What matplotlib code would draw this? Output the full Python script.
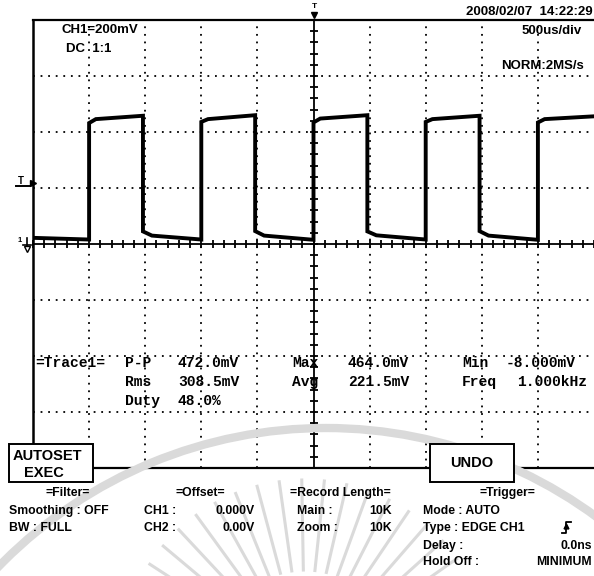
import math
import matplotlib
matplotlib.use("Agg")
import matplotlib.pyplot as plt
from matplotlib.ticker import MultipleLocator, NullFormatter
from matplotlib.patches import Rectangle, Arc
from matplotlib.lines import Line2D
from matplotlib.transforms import IdentityTransform

# ---- waveform (time in ms, level in mV) ----
rise_ms = [-2.0, -1.0, 0.0, 1.0, 2.0]
fall_ms = [-1.52, -0.52, 0.48, 1.48]
high_start_mv = [432, 436, 434, 436, 434]
high_knee_mv = [446, 446, 448, 446, 446]
high_end_mv = [458, 460, 460, 458, 456]
low_start_mv = [45, 46, 45, 46]
low_knee_mv = [30, 30, 31, 30]
low_end_mv = [16, 15, 16, 15]
lead_low_mv = [22, 16]          # segment before the first rising edge
HIGH_KNEE_MS = 0.06
LOW_KNEE_MS = 0.08

# screen settings
time_span_ms = (-2.5, 2.5)      # 500us/div x 10 div
volt_span_mv = (-800, 800)      # 200mV/div x 8 div
grid_t = [-2.0, -1.5, -1.0, -0.5, 0.5, 1.0, 1.5, 2.0]
grid_mv = [-600, -400, -200, 200, 400, 600]
trig_level_mv = 218

# measurement readout
meas_rows = [
    ["=Trace1=", "P-P", "472.0mV", "Max", "464.0mV", "Min", "-8.000mV"],
    ["", "Rms", "308.5mV", "Avg", "221.5mV", "Freq", "1.000kHz"],
    ["", "Duty", "48.0%", "", "", "", ""],
]

W, H = 594, 576
fig = plt.figure(figsize=(W / 100, H / 100), dpi=100)
fig.patch.set_facecolor("white")


def fx(x):
    return x / W


def fy(y):
    return 1 - y / H


UI = dict(family="Liberation Sans", weight="bold", color="black")
MONO = dict(family="Liberation Mono", weight="bold", color="black")

# faint watermark behind everything
wm = dict(transform=IdentityTransform(), color="#dadada", zorder=0)
fig.patches.append(Arc((326, H - 884), 912, 912, lw=6, **wm))
for a in range(28, 156, 7):
    r0, r1 = 95, 185
    c = (305, H - 665)
    ca, sa = math.cos(math.radians(a)), math.sin(math.radians(a))
    fig.lines.append(Line2D([c[0] + r0 * ca, c[0] + r1 * ca],
                            [c[1] + r0 * sa, c[1] + r1 * sa],
                            lw=2.2, **wm))

ax = fig.add_axes([fx(33), fy(468), (594 - 33) / W, 448 / H])
ax.set_xlim(*time_span_ms)
ax.set_ylim(*volt_span_mv)
ax.set_facecolor("none")

# center cross with graduation ticks
for s in ["top", "right"]:
    ax.spines[s].set_visible(False)
ax.spines["left"].set_position(("data", 0))
ax.spines["bottom"].set_position(("data", 0))
ax.spines["left"].set_linewidth(1.3)
ax.spines["bottom"].set_linewidth(1.3)
ax.xaxis.set_major_locator(MultipleLocator(0.5))
ax.xaxis.set_minor_locator(MultipleLocator(0.1))
ax.yaxis.set_major_locator(MultipleLocator(200))
ax.yaxis.set_minor_locator(MultipleLocator(40))
ax.xaxis.set_major_formatter(NullFormatter())
ax.yaxis.set_major_formatter(NullFormatter())
ax.tick_params(which="both", direction="inout", length=6, width=1.3,
               top=False, right=False)

# dotted graticule
for t in grid_t:
    ax.axvline(t, color="black", lw=1.3, ls=(0, (1.0, 3.2)), zorder=1)
for v in grid_mv:
    ax.axhline(v, color="black", lw=1.3, ls=(0, (1.0, 3.2)), zorder=1)

# screen border
ax.axhline(volt_span_mv[1], color="black", lw=1.6, clip_on=False)
ax.axvline(time_span_ms[0], ymin=0.054, ymax=1, color="black", lw=1.8, clip_on=False)
ax.axhline(volt_span_mv[0], xmin=0.107, xmax=0.708, color="black", lw=1.6, clip_on=False)
ax.axhline(volt_span_mv[0], xmin=0.857, xmax=1.0, color="black", lw=1.6, clip_on=False)

# trace
t = [time_span_ms[0], rise_ms[0]]
v = [lead_low_mv[0], lead_low_mv[1]]
for i, tr in enumerate(rise_ms):
    t += [tr, tr + HIGH_KNEE_MS]
    v += [high_start_mv[i], high_knee_mv[i]]
    tf = fall_ms[i] if i < len(fall_ms) else time_span_ms[1]
    t.append(tf)
    v.append(high_end_mv[i])
    if i < len(fall_ms):
        t += [tf, tf + LOW_KNEE_MS]
        v += [low_start_mv[i], low_knee_mv[i]]
        t.append(rise_ms[i + 1])
        v.append(low_end_mv[i])
ax.plot(t, v, color="black", lw=2.8, solid_joinstyle="miter", zorder=4)

# trigger level marker on the left
ax.annotate("T", xy=(time_span_ms[0], trig_level_mv), xytext=(-12, 2),
            textcoords="offset pixels", ha="center", va="center",
            fontsize=7, annotation_clip=False, **UI)
ax.plot([time_span_ms[0]], [trig_level_mv], marker=">", ms=5, color="black",
        clip_on=False, transform=ax.transData)
ax.axhline(trig_level_mv - 12, xmin=-0.031, xmax=-0.006, color="black", lw=1.4,
           clip_on=False)

# ground marker: "1" and a ground sign drawn as shapes
ax.annotate("1", xy=(time_span_ms[0], 0), xytext=(-13, 4),
            textcoords="offset pixels", ha="center", va="center",
            fontsize=5.5, annotation_clip=False, **UI)
fig.lines.append(Line2D([fx(27), fx(27)], [fy(238), fy(246)], color="black",
                        lw=1.2, transform=fig.transFigure))
fig.lines.append(Line2D([fx(23), fx(31)], [fy(245), fy(245)], color="black",
                        lw=1.2, transform=fig.transFigure))
fig.lines.append(Line2D([fx(27)], [fy(249)], marker="v", ms=5, mfc="white",
                        mec="black", mew=1.0, color="black",
                        transform=fig.transFigure))

# trigger position marker on top
fig.text(fx(314), fy(7), "T", ha="center", va="center", fontsize=6, **UI)
fig.lines.append(Line2D([fx(314)], [fy(15)], marker="v", ms=5, color="black",
                        transform=fig.transFigure))

# header texts
fig.text(fx(62), fy(30), "CH1=200mV", ha="left", va="center", fontsize=9.5, **UI)
fig.text(fx(66), fy(49), "DC  1:1", ha="left", va="center", fontsize=9.5, **UI)
fig.text(fx(593), fy(12), "2008/02/07  14:22:29", ha="right", va="center", fontsize=9.5, **UI)
fig.text(fx(582), fy(31), "500us/div", ha="right", va="center", fontsize=9.5, **UI)
fig.text(fx(584), fy(66), "NORM:2MS/s", ha="right", va="center", fontsize=9.5, **UI)

# measurement readout
col_x = [35, 125, 178, 292, 348, 462, 506]
row_y = [363, 382, 401]
for r, row in enumerate(meas_rows):
    for c, txt in enumerate(row):
        if not txt:
            continue
        x = col_x[c]
        if r == 1 and c == 6:
            x = 517
        fig.text(fx(x), fy(row_y[r]), txt, ha="left", va="center", fontsize=10.5, **MONO)

# soft buttons
for (x0, y0, x1, y1) in [(9, 444, 93, 482), (430, 444, 514, 482)]:
    fig.patches.append(Rectangle((fx(x0), fy(y1)), fx(x1) - fx(x0), fy(y0) - fy(y1),
                                 transform=fig.transFigure, facecolor="white",
                                 edgecolor="black", lw=1.4, zorder=5))
fig.text(fx(13), fy(456), "AUTOSET", ha="left", va="center", fontsize=10.5, zorder=6, **UI)
fig.text(fx(24), fy(473), "EXEC", ha="left", va="center", fontsize=10.5, zorder=6, **UI)
fig.text(fx(472), fy(463), "UNDO", ha="center", va="center", fontsize=10.5, zorder=6, **UI)

# bottom menu
fs = 8.8
fig.text(fx(68), fy(493), "=Filter=", ha="center", va="center", fontsize=fs, **UI)
fig.text(fx(9), fy(511), "Smoothing : OFF", ha="left", va="center", fontsize=fs, **UI)
fig.text(fx(9), fy(528), "BW : FULL", ha="left", va="center", fontsize=fs, **UI)
fig.text(fx(200), fy(493), "=Offset=", ha="center", va="center", fontsize=fs, **UI)
fig.text(fx(144), fy(511), "CH1 :", ha="left", va="center", fontsize=fs, **UI)
fig.text(fx(255), fy(511), "0.000V", ha="right", va="center", fontsize=fs, **UI)
fig.text(fx(144), fy(528), "CH2 :", ha="left", va="center", fontsize=fs, **UI)
fig.text(fx(255), fy(528), "0.00V", ha="right", va="center", fontsize=fs, **UI)
fig.text(fx(340), fy(493), "=Record Length=", ha="center", va="center", fontsize=fs, **UI)
fig.text(fx(297), fy(511), "Main :", ha="left", va="center", fontsize=fs, **UI)
fig.text(fx(392), fy(511), "10K", ha="right", va="center", fontsize=fs, **UI)
fig.text(fx(297), fy(528), "Zoom :", ha="left", va="center", fontsize=fs, **UI)
fig.text(fx(392), fy(528), "10K", ha="right", va="center", fontsize=fs, **UI)
fig.text(fx(507), fy(493), "=Trigger=", ha="center", va="center", fontsize=fs, **UI)
fig.text(fx(423), fy(511), "Mode : AUTO", ha="left", va="center", fontsize=fs, **UI)
fig.text(fx(423), fy(528), "Type : EDGE CH1", ha="left", va="center", fontsize=fs, **UI)
fig.text(fx(423), fy(546), "Delay :", ha="left", va="center", fontsize=fs, **UI)
fig.text(fx(592), fy(546), "0.0ns", ha="right", va="center", fontsize=fs, **UI)
fig.text(fx(423), fy(562), "Hold Off :", ha="left", va="center", fontsize=fs, **UI)
fig.text(fx(592), fy(562), "MINIMUM", ha="right", va="center", fontsize=fs, **UI)
# rising-edge symbol
fig.lines.append(Line2D([fx(562), fx(566), fx(566), fx(571)],
                        [fy(533), fy(533), fy(522), fy(522)],
                        color="black", lw=1.3, transform=fig.transFigure))
fig.lines.append(Line2D([fx(566)], [fy(526)], marker="^", ms=3.5, color="black",
                        transform=fig.transFigure))

fig.savefig("out.png", dpi=100)
